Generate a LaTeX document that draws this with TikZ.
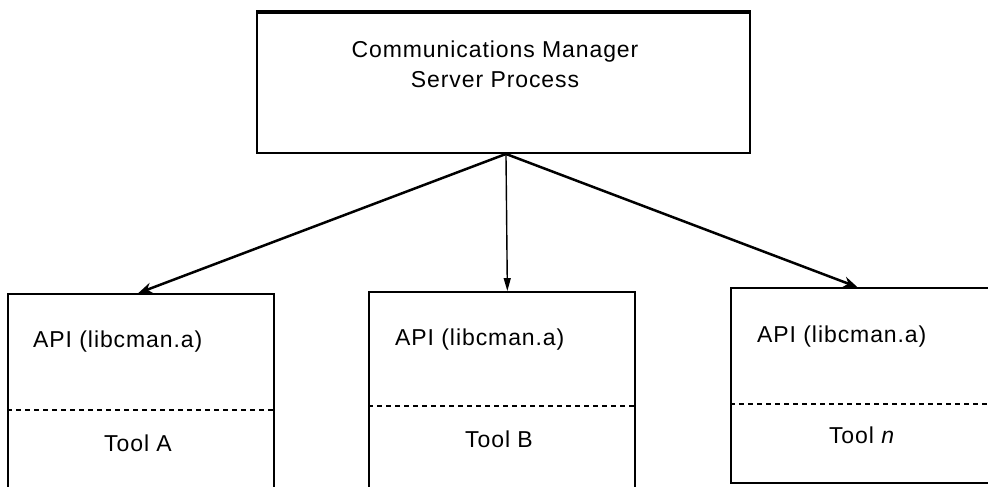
\documentclass[tikz,border=0pt]{standalone}
\usepackage{fontspec}
\setmainfont{Liberation Sans}[LetterSpace=4]
\usetikzlibrary{arrows.meta,calc}
\begin{document}
\begin{tikzpicture}[x=1pt,y=-1pt,
  box/.style={draw=black,line width=1.9pt,inner sep=0pt,rectangle},
  lbl/.style={font=\fontsize{23}{28}\selectfont,inner sep=0pt,text=black},
  sep/.style={line width=1.4pt,dash pattern=on 5pt off 4pt},
  link/.style={line width=2.5pt,-{Stealth[length=14pt,width=11pt]}},
  thinlink/.style={line width=1.4pt,-{Stealth[length=13pt,width=7pt,inset=0pt]}}]
\useasboundingbox (0,0) rectangle (988,487);
% top box
\node[box,minimum width=493pt,minimum height=140pt] (top) at (503.5,83) {};
\draw[line width=3.8pt] (top.north west) -- (top.north east);
\node[lbl,anchor=base] (t1) at (495,58) {Communications Manager};
\node[lbl,anchor=base] (t2) at (495,88) {Server Process};
% bottom boxes
\node[box,minimum width=266pt,minimum height=206pt] (ba) at (141,397) {};
\node[box,minimum width=266pt,minimum height=208pt] (bb) at (502,396) {};
\node[box,minimum width=270pt,minimum height=195pt] (bc) at (866,385.5) {};
% separators
\draw[sep] (ba.west |- 0,410) coordinate (sa) -- (ba.east |- sa);
\draw[sep] (bb.west |- 0,406) coordinate (sb) -- (bb.east |- sb);
\draw[sep] (bc.west |- 0,404) coordinate (sc) -- (bc.east |- sc);
% labels
\node[lbl,anchor=base west] (apia) at (33,347) {API (libcman.a)};
\node[lbl,anchor=base west] (apib) at (395,345) {API (libcman.a)};
\node[lbl,anchor=base west] (apic) at (757,342) {API (libcman.a)};
\node[lbl,anchor=base] (toola) at (138,451) {Tool A};
\node[lbl,anchor=base] (toolb) at (499,447) {Tool B};
\node[lbl,anchor=base] (toolc) at (862,443) {Tool \textit{n}};
% connectors
\coordinate (hub) at ($(top.south west)!0.505!(top.south east)$);
\draw[link] (hub) -- ($(ba.north west)!0.49!(ba.north east)$);
\draw[thinlink] (hub) -- ($(bb.north west)!0.52!(bb.north east)$);
\draw[link] (hub) -- ($(bc.north west)!0.468!(bc.north east)$);
\end{tikzpicture}
\end{document}
